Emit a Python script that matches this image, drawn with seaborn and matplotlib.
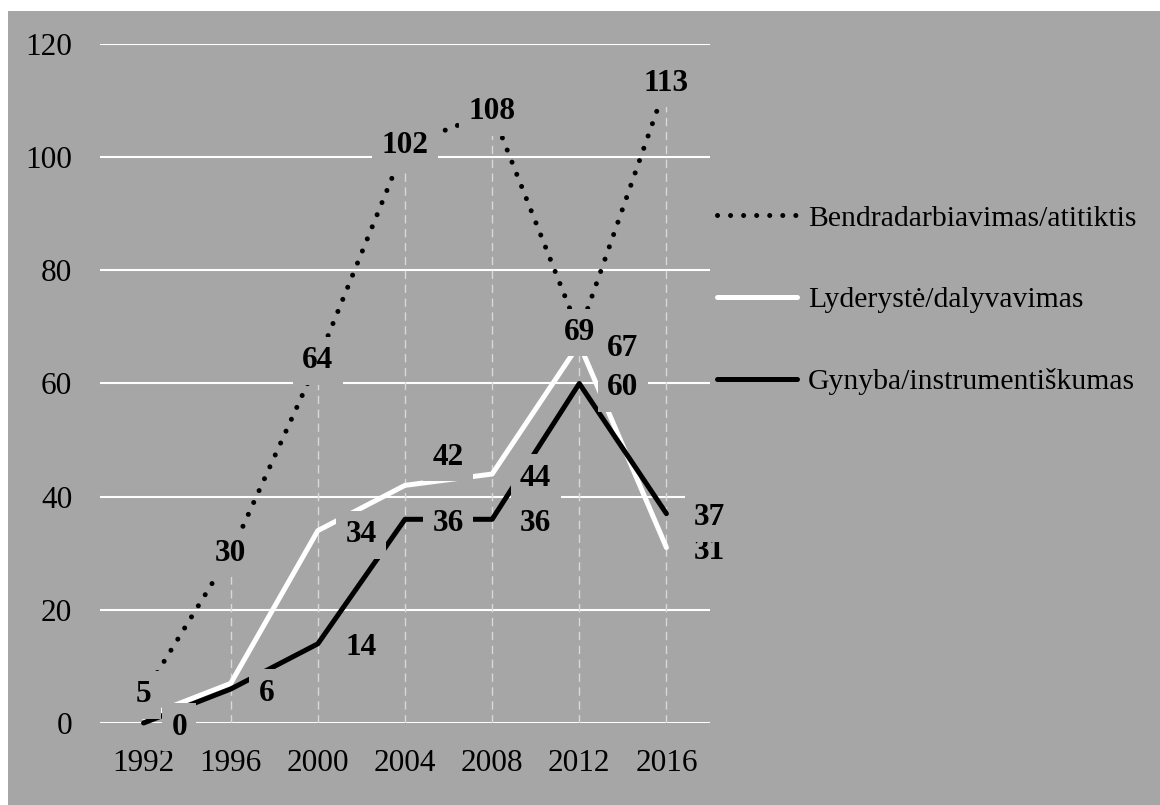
import matplotlib.pyplot as plt
import matplotlib.patches as mpatches
import numpy as np
import pandas as pd
import seaborn as sns

# data
years = ['1992', '1996', '2000', '2004', '2008', '2012', '2016']
bendradarbiavimas = [5, 30, 64, 102, 108, 69, 113]
lyderyste = [1, 7, 34, 42, 44, 67, 31]
gynyba = [0, 6, 14, 36, 36, 60, 37]

series_names = ['Bendradarbiavimas/atitiktis', 'Lyderystė/dalyvavimas', 'Gynyba/instrumentiškumas']

# the first two white-line labels are hidden behind other labels in the original
lyderyste_labelled = [False, False, True, True, True, True, True]

gray = '#a6a6a6'
W, H = 1160, 805

sns.set_style('white')
plt.rcParams['font.family'] = ['Liberation Serif', 'DejaVu Serif']
plt.rcParams['font.size'] = 22.5
plt.rcParams['text.color'] = 'black'
plt.rcParams['xtick.color'] = 'black'
plt.rcParams['ytick.color'] = 'black'
plt.rcParams['axes.labelcolor'] = 'black'

df = pd.DataFrame({
    'pos': np.arange(len(years)),
    'year': years,
    'bendradarbiavimas': bendradarbiavimas,
    'lyderyste': lyderyste,
    'gynyba': gynyba,
})

fig = plt.figure(figsize=(W / 100, H / 100), dpi=100)
fig.patch.set_facecolor('white')
fig.add_artist(mpatches.Rectangle((8 / W, 0), 1, 1 - 11 / H, transform=fig.transFigure,
                                  facecolor=gray, edgecolor='none', zorder=-5))

ax = fig.add_axes([100 / W, 1 - 723 / H, 610 / W, 679 / H])
ax.set_facecolor('none')

# drop lines from the dotted series
ax.vlines(df['pos'], 0, df['bendradarbiavimas'], colors='#d9d9d9', lw=1,
          linestyles=(0, (6, 4)), zorder=1.5)

sns.lineplot(data=df, x='pos', y='bendradarbiavimas', ax=ax, color='black', lw=3.6,
             linestyle=(0, (0.01, 2.6)), dash_capstyle='round', legend=False,
             label=series_names[0], zorder=3, clip_on=False)
sns.lineplot(data=df, x='pos', y='lyderyste', ax=ax, color='white', lw=3.6,
             legend=False, label=series_names[1], zorder=3, clip_on=False)
sns.lineplot(data=df, x='pos', y='gynyba', ax=ax, color='black', lw=3.6,
             legend=False, label=series_names[2], zorder=3, clip_on=False)

box = dict(boxstyle='square,pad=0.3', fc=gray, ec='none')


def put_label(x, y, dx, dy, ha):
    ax.annotate(f'{y}', (x, y), xytext=(dx, dy), textcoords='offset points',
                ha=ha, va='center', fontweight='bold', color='black', bbox=box, zorder=6,
                annotation_clip=False)


for i, v in enumerate(bendradarbiavimas):
    put_label(i, v, 0, 0, 'center')
for i, v in enumerate(lyderyste):
    if lyderyste_labelled[i]:
        dy = 20 if v == 42 else -3
        put_label(i, v, 20, dy, 'left')
for i, v in enumerate(gynyba):
    put_label(i, v, 20, -3, 'left')

ax.set_xlim(-0.5, len(years) - 0.5)
ax.set_ylim(0, 120)
ax.set_xticks(df['pos'])
ax.set_xticklabels(years)
ax.set_yticks(np.arange(0, 121, 20))
ax.set_xlabel('')
ax.set_ylabel('')
ax.yaxis.grid(True, color='white', lw=1.5)
ax.xaxis.grid(False)
ax.set_axisbelow(True)
sns.despine(ax=ax, left=True, bottom=True)
ax.tick_params(axis='y', length=0, pad=20)
ax.tick_params(axis='x', length=0, pad=19)

handles = ax.get_lines()[:3]
fig.legend(handles, series_names, loc='center left', bbox_to_anchor=(717 / W, 1 - 300 / H),
           frameon=False, handlelength=2.7, handletextpad=0.38, labelspacing=1.85,
           borderpad=0, borderaxespad=0, fontsize=21.3)

fig.savefig('out.png', dpi=100)
